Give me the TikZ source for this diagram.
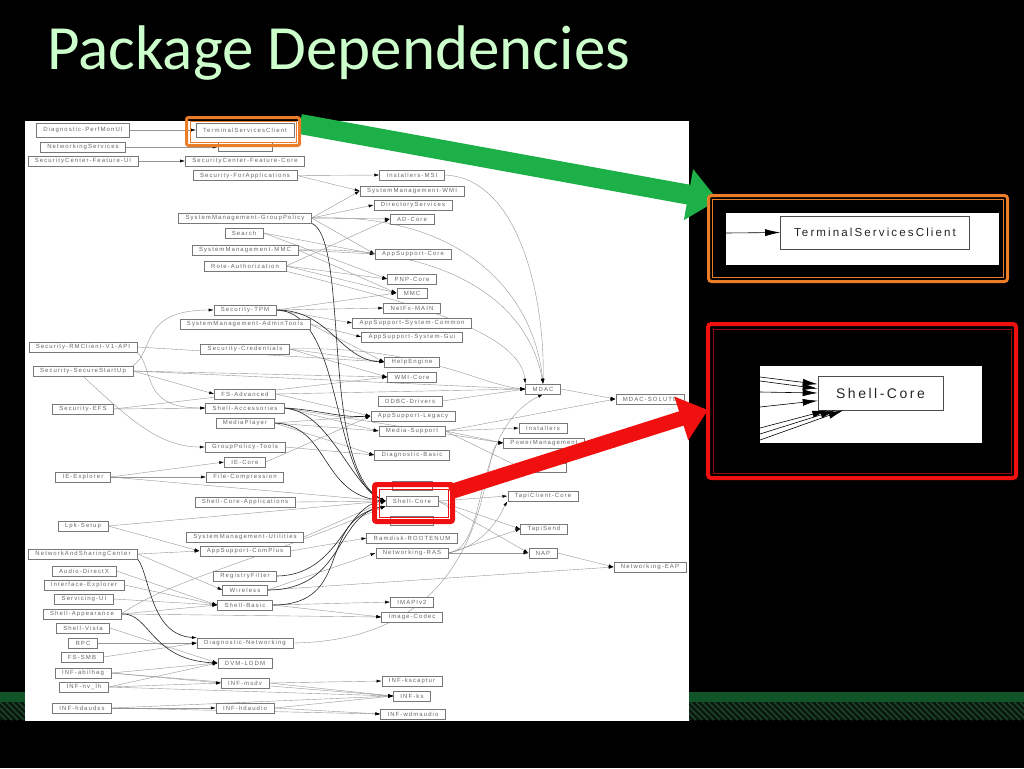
\documentclass[tikz,border=0pt]{standalone}
\usepackage{fontspec}
\setmainfont{Liberation Sans}
\newfontfamily\titlefont{Carlito}
\newfontfamily\gvfont[LetterSpace=18]{Liberation Sans}
\usepackage{xcolor}
\usepackage{tikz}
\usetikzlibrary{arrows.meta}

\definecolor{titlegreen}{RGB}{204,255,204}
\definecolor{bandgreen}{RGB}{16,84,40}
\definecolor{hatchbase}{RGB}{8,20,12}
\definecolor{hatchline}{RGB}{26,62,38}
\definecolor{arrowgreen}{RGB}{30,176,72}
\definecolor{hlorange}{RGB}{236,125,40}
\definecolor{hlred}{RGB}{240,16,16}
\definecolor{darkred}{RGB}{150,10,10}
\definecolor{edgegray}{RGB}{150,150,150}
\definecolor{boxgray}{RGB}{120,120,120}

\pgfdeclarelayer{slide}
\pgfdeclarelayer{edges}
\pgfsetlayers{slide,edges,main}

\begin{document}
\begin{tikzpicture}[x=1pt, y=-1pt,
  pkg/.style={draw=boxgray, line width=0.5pt, fill=white, text=black!60,
    font=\gvfont\fontsize{6}{7}\selectfont, inner xsep=7pt, inner ysep=1pt, minimum height=10pt},
  tall/.style={minimum height=14pt},
  blank/.style={pkg, minimum height=9pt},
  dep/.style={draw=edgegray, line width=0.4pt, -{Latex[length=5pt,width=3pt,color=black]}},
  heavy/.style={dep, draw=black!85, line width=0.6pt},
  bigpkg/.style={draw=black!70, line width=0.6pt, fill=white, text=black!85},
  bigdep/.style={draw=black, line width=0.6pt, -{Latex[length=15pt,width=7pt]}}]

\useasboundingbox (0,0) rectangle (1024,768);

\begin{pgfonlayer}{slide}
\fill[black] (0,0) rectangle (1024,768);
\fill[bandgreen] (0,692) rectangle (1024,702);
\fill[hatchbase] (0,702) rectangle (1024,720);
\begin{scope}
  \clip (0,702) rectangle (1024,720);
  \foreach \i in {-24,-18,...,1030}
    \draw[hatchline, line width=2pt] (\i,702) -- ++(18,18);
\end{scope}
\fill[white] (25,121) rectangle (689,721);
\end{pgfonlayer}

\node[anchor=base west, inner sep=0pt, text=titlegreen,
  font=\titlefont\fontsize{63}{70}\selectfont] (title) at (47,69) {Package Dependencies};

% left columns
\node[pkg, tall] (perfmon) at (83,130) {Diagnostic-PerfMonUI};
\node[pkg, tall] (tsc) at (245,130) {TerminalServicesClient};
\node[pkg] (netsvc) at (83,147) {NetworkingServices};
\node[blank, minimum width=54pt] (blanka) at (245,147) {};
\node[pkg] (scui) at (83,161) {SecurityCenter-Feature-UI};
\node[pkg] (sccore) at (245,161) {SecurityCenter-Feature-Core};
\node[pkg] (secapp) at (245,175.5) {Security-ForApplications};
\node[pkg] (gp) at (245,218) {SystemManagement-GroupPolicy};
\node[pkg] (search) at (244,233) {Search};
\node[pkg] (smmmc) at (245,250) {SystemManagement-MMC};
\node[pkg] (roleauth) at (245,266) {Role-Authorization};
\node[pkg] (sectpm) at (245,310) {Security-TPM};
\node[pkg] (smadmin) at (245,324) {SystemManagement-AdminTools};
\node[pkg] (secrmc) at (83,347) {Security-RMClient-V1-API};
\node[pkg] (seccred) at (245,349) {Security-Credentials};
\node[pkg] (secss) at (83,371) {Security-SecureStartUp};
\node[pkg] (fsadv) at (245,394) {FS-Advanced};
\node[pkg] (secefs) at (83,409) {Security-EFS};
\node[pkg] (shellacc) at (245,408) {Shell-Accessories};
\node[pkg] (mediaplayer) at (245,423) {MediaPlayer};
\node[pkg] (gptools) at (245,447) {GroupPolicy-Tools};
\node[pkg] (iecore) at (245,462) {IE-Core};
\node[pkg] (ieexpl) at (83,477) {IE-Explorer};
\node[pkg] (filecomp) at (245,477) {File-Compression};
\node[pkg] (shellcoreapps) at (245,502) {Shell-Core-Applications};
\node[pkg] (lpk) at (83,526) {Lpk-Setup};
\node[pkg] (smutil) at (245,537) {SystemManagement-Utilities};
\node[pkg] (nasc) at (83,554) {NetworkAndSharingCenter};
\node[pkg] (appcomplus) at (245,551) {AppSupport-ComPlus};
\node[pkg] (audiodx) at (84,571) {Audio-DirectX};
\node[pkg] (regfilter) at (245,576) {RegistryFilter};
\node[pkg] (ifexpl) at (84,585) {Interface-Explorer};
\node[pkg] (wireless) at (245,590) {Wireless};
\node[pkg] (servui) at (84,599) {Servicing-UI};
\node[pkg] (shellbasic) at (245,605) {Shell-Basic};
\node[pkg] (shellappear) at (82,614) {Shell-Appearance};
\node[pkg] (shellvista) at (83,628) {Shell-Vista};
\node[pkg] (rpc) at (83,643) {RPC};
\node[pkg] (diagnet) at (245,643) {Diagnostic-Networking};
\node[pkg] (fssmb) at (82,657) {FS-SMB};
\node[pkg] (dvm) at (245,663) {DVM-LODM};
\node[pkg] (abilhag) at (83,673) {INF-abilhag};
\node[pkg] (nvlh) at (84,687) {INF-nv\_lh};
\node[pkg] (msdv) at (245,683) {INF-msdv};
\node[pkg] (hdaudss) at (82,708) {INF-hdaudss};
\node[pkg] (hdaudio) at (245,708) {INF-hdaudio};

% right columns
\node[pkg] (instmsi) at (412,175) {Installers-MSI};
\node[pkg] (smwmi) at (412,191) {SystemManagement-WMI};
\node[pkg] (dirsvc) at (413,205) {DirectoryServices};
\node[pkg] (adcore) at (412,219) {AD-Core};
\node[pkg] (appcore) at (413,254) {AppSupport-Core};
\node[pkg] (pnpcore) at (412,279) {PNP-Core};
\node[pkg] (mmc) at (412,293) {MMC};
\node[pkg] (netfx) at (412,308) {NetFx-MAIN};
\node[pkg] (appsyscommon) at (412,323) {AppSupport-System-Common};
\node[pkg] (appsysgui) at (412,337) {AppSupport-System-Gui};
\node[pkg] (helpengine) at (412,362) {HelpEngine};
\node[pkg] (wmicore) at (412,377) {WMI-Core};
\node[pkg] (odbc) at (410,401) {ODBC-Drivers};
\node[pkg] (applegacy) at (413,416) {AppSupport-Legacy};
\node[pkg] (mediasupport) at (412,431) {Media-Support};
\node[pkg] (diagbasic) at (412,455) {Diagnostic-Basic};
\node[blank, minimum width=40pt] (blankb) at (412,486) {};
\node[pkg] (shellcore) at (412,501) {Shell-Core};
\node[blank, minimum width=43pt] (blankc) at (412,521) {};
\node[pkg] (ramdisk) at (412,538) {Ramdisk-ROOTENUM};
\node[pkg] (nwras) at (412,553) {Networking-RAS};
\node[pkg] (imapi) at (412,602) {IMAPIv2};
\node[pkg] (imagecodec) at (412,617) {Image-Codec};
\node[pkg] (kscaptur) at (412,681) {INF-kscaptur};
\node[pkg] (ks) at (412,696) {INF-ks};
\node[pkg] (wdmaudio) at (413,714) {INF-wdmaudio};
\node[pkg] (mdac) at (543,389) {MDAC};
\node[pkg] (installers) at (543,428) {Installers};
\node[pkg] (powermgmt) at (544,443) {PowerManagement};
\node[blank, minimum width=45pt] (blankd) at (544,468) {};
\node[pkg] (tapiclient) at (543,496) {TapiClient-Core};
\node[pkg] (tapisend) at (544,529) {TapiSend};
\node[pkg] (nap) at (543,553) {NAP};
\node[pkg] (mdacsol) at (650,399) {MDAC-SOLUTE};
\node[pkg] (eap) at (650,567) {Networking-EAP};

\begin{pgfonlayer}{edges}
\foreach \a/\b in {perfmon/tsc, netsvc/blanka, scui/sccore, secapp/instmsi, secapp/smwmi,
    gp/smwmi, gp/dirsvc, gp/adcore, gp/appcore, search/appcore, search/pnpcore,
    smmmc/appcore, smmmc/mmc, roleauth/adcore, roleauth/pnpcore, roleauth/mmc,
    sectpm/mmc, sectpm/netfx, sectpm/appsyscommon, smadmin/appsysgui, smadmin/helpengine,
    seccred/helpengine, seccred/wmicore, secrmc/helpengine, secss/fsadv, secss/wmicore,
    secss/mdac, secefs/shellacc, secefs/wmicore, fsadv/applegacy, fsadv/mdac,
    shellacc/mediasupport, shellacc/powermgmt, mediaplayer/applegacy, mediaplayer/mediasupport,
    mediaplayer/diagbasic, gptools/diagbasic, iecore/applegacy, ieexpl/iecore, ieexpl/filecomp,
    ieexpl/shellcore, odbc/mdac, mdac/mdacsol, mediasupport/installers, mediasupport/powermgmt,
    mediasupport/mdacsol, mediasupport/blankd, shellcoreapps/shellcore, lpk/appcomplus,
    lpk/shellcore, smutil/shellcore, nasc/appcomplus, nasc/wireless, appcomplus/ramdisk,
    audiodx/shellbasic, ifexpl/shellbasic, servui/shellbasic, shellappear/shellbasic,
    rpc/diagnet, fssmb/diagnet, shellvista/dvm, abilhag/dvm, nvlh/dvm, abilhag/msdv,
    nvlh/msdv, abilhag/ks, nvlh/ks, hdaudss/hdaudio, hdaudss/ks, hdaudss/wdmaudio,
    msdv/kscaptur, msdv/ks, hdaudio/ks, hdaudio/wdmaudio, shellbasic/imapi,
    shellbasic/imagecodec, shellappear/imagecodec, nwras/nap, nwras/tapisend, nap/eap,
    wireless/eap, wireless/nwras, shellcore/tapiclient, shellcore/tapisend, shellcore/nap}
  \draw[dep] (\a.east) -- (\b.west);

\draw[dep] (instmsi.east) .. controls (520,178) and (545,300) .. (mdac.north);
\draw[dep] (gp.east) .. controls (470,212) and (535,300) .. (mdac.north);
\draw[dep] (smmmc.east) .. controls (460,245) and (530,310) .. (mdac.north);
\draw[dep] (roleauth.south east) .. controls (400,300) and (520,330) .. (mdac.north west);
\draw[dep] (seccred.east) .. controls (420,345) and (480,385) .. (mdac.west);
\draw[dep] (nwras.east) .. controls (490,548) and (470,430) .. (mdac.south);
\draw[dep] (diagnet.east) .. controls (500,640) and (480,445) .. (powermgmt.west);
\draw[dep] (nwras.east) .. controls (490,545) and (505,505) .. (tapiclient.south west);
\draw[dep] (secss.north east) .. controls (155,350) and (140,310) .. (sectpm.west);
\draw[dep] (secrmc.south east) .. controls (155,370) and (140,408) .. (shellacc.west);
\draw[dep] (secss.south) .. controls (130,420) and (160,447) .. (gptools.west);
\draw[dep] (shellappear.east) .. controls (170,580) and (260,560) .. (shellcore.south west);
\draw[heavy] (gp.south east) .. controls (350,240) and (320,470) .. (shellcore.west);
\draw[heavy] (sectpm.east) .. controls (345,312) and (330,480) .. (shellcore.west);
\draw[heavy] (sectpm.east) .. controls (330,310) and (340,360) .. (helpengine.west);
\draw[heavy] (shellacc.east) .. controls (330,412) and (350,485) .. (shellcore.west);
\draw[heavy] (shellacc.east) .. controls (320,410) and (340,418) .. (applegacy.west);
\draw[heavy] (mediaplayer.east) .. controls (330,425) and (320,495) .. (shellcore.west);
\draw[heavy] (shellbasic.east) .. controls (355,605) and (315,520) .. (shellcore.south west);
\draw[heavy] (wireless.east) .. controls (345,590) and (335,515) .. (shellcore.south west);
\draw[heavy] (regfilter.east) .. controls (340,575) and (345,505) .. (shellcore.west);
\draw[heavy] (nasc.south east) .. controls (150,575) and (150,635) .. (diagnet.north west);
\draw[heavy] (shellappear.east) .. controls (150,612) and (150,660) .. (dvm.west);
\end{pgfonlayer}

% highlights
\draw[arrowgreen, line width=20pt, -{Triangle[length=30pt,width=50pt]}] (300,124) -- (718,200);
\draw[hlorange, line width=3pt, rounded corners=2pt] (186.5,117.5) rectangle (299.5,145.5);
\draw[hlorange, line width=0.6pt] (190.5,121) rectangle (296,142);
\draw[hlred, line width=15pt, -{Triangle[length=28pt,width=44pt]}] (450,492) -- (708,410);
\draw[hlred, line width=5pt, rounded corners=2pt] (374.5,484.5) rectangle (452.5,521.5);
\draw[hlred, line width=0.8pt] (379,489) rectangle (448,517);

% callouts
\draw[hlorange, line width=3pt, rounded corners=3pt, fill=black] (708.5,195.5) rectangle (1007.5,281.5);
\draw[hlorange, line width=0.8pt] (712.5,199.5) rectangle (1003.5,277.5);
\fill[white] (726,213) rectangle (999,265);
\node[bigpkg, minimum width=189pt, minimum height=33pt,
  font=\gvfont\fontsize{11.6}{13}\selectfont] (bigtsc) at (875,232.5) {TerminalServicesClient};
\coordinate (tscin) at (726,233);
\draw[bigdep] (tscin) -- (bigtsc.west);

\draw[hlred, line width=4pt, rounded corners=3pt, fill=black] (708,324) rectangle (1016,478);
\draw[darkred, line width=1pt] (713,329) rectangle (1011,473);
\fill[white] (760,366) rectangle (982,443);
\node[bigpkg, minimum width=125pt, minimum height=34pt,
  font=\gvfont\fontsize{14}{16}\selectfont] (bigsc) at (880.5,393) {Shell-Core};
\coordinate (scina) at (760,377);
\coordinate (scinb) at (760,381);
\coordinate (scinc) at (760,392);
\coordinate (scind) at (760,407);
\coordinate (scine) at (760,428);
\coordinate (scinf) at (760,434);
\coordinate (scing) at (760,440);
\draw[bigdep] (scina) -- (bigsc.172);
\draw[bigdep] (scinb) -- (bigsc.176);
\draw[bigdep] (scinc) -- (bigsc.west);
\draw[bigdep] (scind) -- (bigsc.187);
\draw[bigdep] (scine) -- (bigsc.198);
\draw[bigdep] (scinf) -- (bigsc.201);
\draw[bigdep] (scing) -- (bigsc.205);
\end{tikzpicture}
\end{document}
